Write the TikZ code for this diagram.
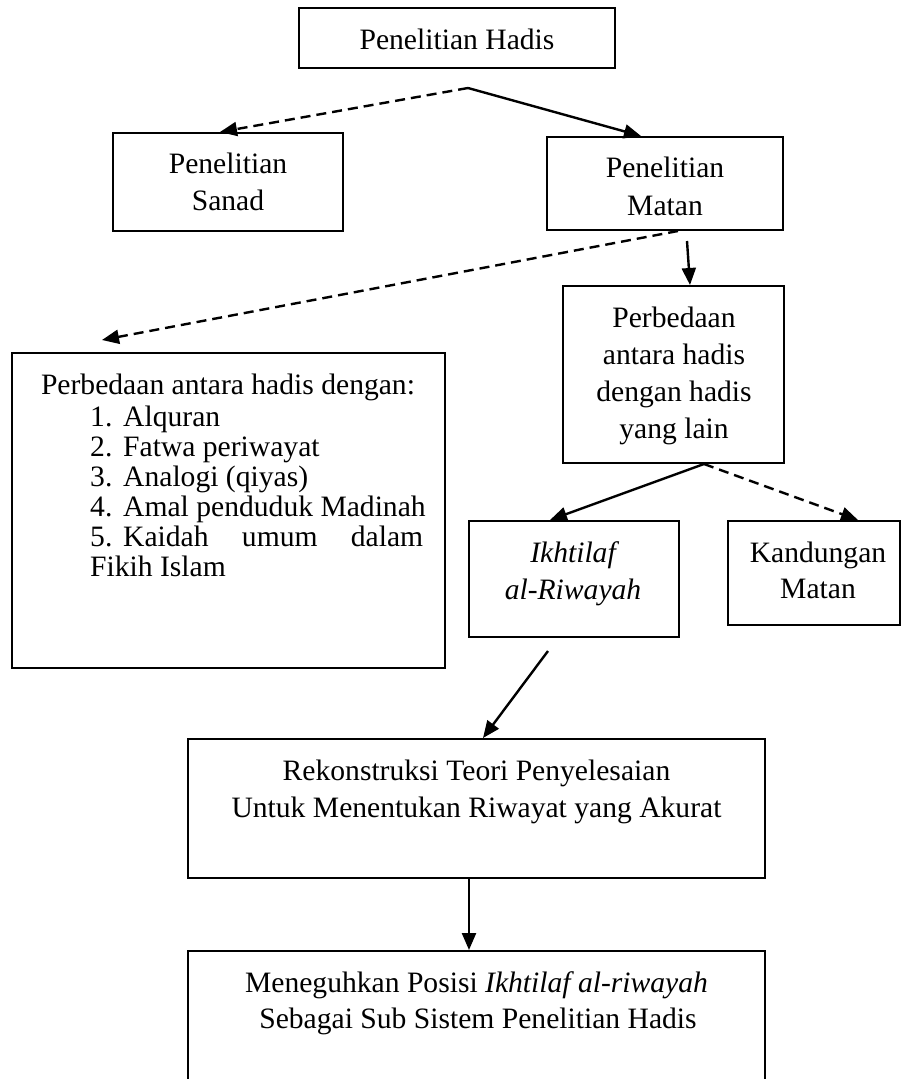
\documentclass[tikz,border=0pt]{standalone}
\usepackage{fontspec}
\setmainfont{Liberation Serif}
\usetikzlibrary{arrows.meta,calc}
\newcommand\diagfs{\fontsize{29.6}{37}\selectfont}
\tikzset{
  box/.style={draw, line width=2pt, inner sep=0pt},
  txt/.style={anchor=base, inner sep=0pt, font=\diagfs},
  txtl/.style={anchor=base west, inner sep=0pt, font=\diagfs},
  arr/.style={line width=2.4pt, -{Triangle[length=17pt,width=14pt]}},
  darr/.style={arr, dash pattern=on 10pt off 6pt},
}
\begin{document}
\begin{tikzpicture}[x=1pt,y=-1pt]
\clip (0,0) rectangle (902,1079);
\fill[white] (0,0) rectangle (902,1079);

% boxes
\node[box, minimum width=316pt, minimum height=60pt]  (top)  at (457,38) {};
\node[box, minimum width=230pt, minimum height=98pt]  (sanad) at (228,182) {};
\node[box, minimum width=236pt, minimum height=93pt]  (matan) at (665,183.5) {};
\node[box, minimum width=433pt, minimum height=315pt] (beda) at (228.5,510.5) {};
\node[box, minimum width=221pt, minimum height=177pt] (perb) at (673.5,374.5) {};
\node[box, minimum width=210pt, minimum height=116pt] (ikh) at (574,579) {};
\node[box, minimum width=172pt, minimum height=104pt] (kand) at (814,573) {};
\node[box, minimum width=577pt, minimum height=139pt] (rek) at (476.5,808.5) {};
\node[box, minimum width=577pt, minimum height=144pt] (mene) at (476.5,1023) {};

% texts
\node[txt] (t1) at (457,49) {Penelitian Hadis};
\node[txt] (s1) at (228,173) {Penelitian};
\node[txt] (s2) at (228,210) {Sanad};
\node[txt] (m1) at (665,177) {Penelitian};
\node[txt] (m2) at (665,215) {Matan};
\node[txt] (p1) at (674,327) {Perbedaan};
\node[txt] (p2) at (674,364) {antara hadis};
\node[txt] (p3) at (674,401) {dengan hadis};
\node[txt] (p4) at (674,438) {yang lain};
\node[txt] (i1) at (573,562) {\itshape Ikhtilaf};
\node[txt] (i2) at (573,599) {\itshape al-Riwayah};
\node[txt] (k1) at (818,562) {Kandungan};
\node[txt] (k2) at (818,598) {Matan};
\node[txt] (b0) at (228,394) {Perbedaan antara hadis dengan:};
\node[txtl] (n1) at (90,426) {1.};
\node[txtl] (n2) at (90,456) {2.};
\node[txtl] (n3) at (90,486) {3.};
\node[txtl] (n4) at (90,516) {4.};
\node[txtl] (n5) at (90,546) {5.};
\node[txtl] (b1) at (123,426) {Alquran};
\node[txtl] (b2) at (123,456) {Fatwa periwayat};
\node[txtl] (b3) at (123,486) {Analogi (qiyas)};
\node[txtl] (b4) at (123,516) {Amal penduduk Madinah};
\node[txtl] (b5) at (123,546) {\hbox to 300pt{Kaidah\hfill umum\hfill dalam}};
\node[txtl] (b6) at (90,576) {Fikih Islam};
\node[txt] (r1) at (476.5,780) {Rekonstruksi Teori Penyelesaian};
\node[txt] (r2) at (476.5,817) {Untuk Menentukan Riwayat yang Akurat};
\node[txt] (e1) at (476.5,992) {Meneguhkan Posisi \textit{Ikhtilaf al-riwayah}};
\node[txt] (e2) at (478,1028) {Sebagai Sub Sistem Penelitian Hadis};

% connector free ends
\coordinate (split) at (468,88);
\coordinate (mdash) at (678,231);
\coordinate (msol) at (687,241);
\coordinate (ptip) at (102,340);
\coordinate (pfork) at (704,464);
\coordinate (istart) at (548,651);

\draw[darr] (split) -- ($(sanad.north)+(-8,0)$);
\draw[arr] (split) -- ($(matan.north)+(-24,0)$);
\draw[darr] (mdash) -- (ptip);
\draw[arr] (msol) -- ($(perb.north)+(16.5,0)$);
\draw[arr] (pfork) -- ($(ikh.north)+(-24,0)$);
\draw[darr] (pfork) -- ($(kand.north)+(44,0)$);
\draw[arr] (istart) -- ($(rek.north)+(6.5,0)$);
\draw[arr] ($(rek.south)+(-7.5,0)$) -- ($(mene.north)+(-7.5,0)$);
\end{tikzpicture}
\end{document}
